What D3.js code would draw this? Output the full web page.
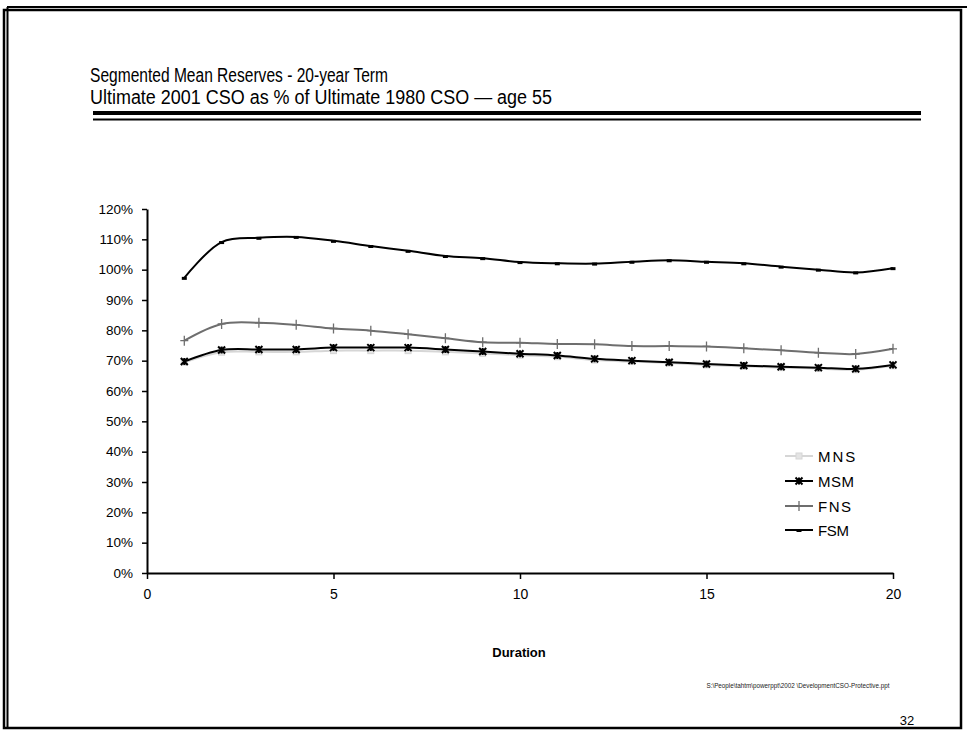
<!DOCTYPE html>
<html>
<head>
<meta charset="utf-8">
<script src="https://cdn.jsdelivr.net/npm/d3@7"></script>
<style>
  html, body { margin: 0; padding: 0; background: #fff; }
  svg { display: block; font-family: "Liberation Sans", Arial, sans-serif; }
</style>
</head>
<body>
<svg id="chart" width="967" height="732"></svg>
<script>
// ---- data ----
const durations = [1,2,3,4,5,6,7,8,9,10,11,12,13,14,15,16,17,18,19,20];
const seriesNames = ["MNS", "MSM", "FNS", "FSM"];
const mnsValues = [69.5, 72.8, 72.9, 72.9, 73.3, 73.3, 73.3, 72.9, 72.4, 71.8, 71.3, 70.2, 69.7, 69.2, 68.6, 68.1, 67.7, 67.4, 67.0, 68.3];
const msmValues = [69.7, 73.5, 73.7, 73.7, 74.3, 74.3, 74.3, 73.7, 73.0, 72.3, 71.7, 70.6, 70.0, 69.5, 68.9, 68.4, 68.0, 67.7, 67.3, 68.6];
const fnsValues = [76.6, 82.1, 82.5, 81.8, 80.6, 79.9, 78.7, 77.4, 76.1, 75.9, 75.5, 75.4, 74.8, 74.8, 74.7, 74.1, 73.4, 72.6, 72.2, 73.9];
const fsmValues = [97.3, 109.1, 110.5, 110.8, 109.5, 107.8, 106.2, 104.5, 103.8, 102.5, 102.1, 102.0, 102.6, 103.1, 102.6, 102.1, 101.0, 100.0, 99.1, 100.5];
const yTickValues = [0,10,20,30,40,50,60,70,80,90,100,110,120];
const xTickValues = [0,5,10,15,20];
const titleLines = ["Segmented Mean Reserves - 20-year Term", "Ultimate 2001 CSO as % of Ultimate 1980 CSO \u2014 age 55"];
const xAxisTitle = "Duration";
const footnote = "S:\\People\\tahtm\\powerppt\\2002 \\DevelopmentCSO-Protective.ppt";
const pageNumber = "32";

const svg = d3.select("#chart");

// ---- frame ----
svg.append("rect").attr("x", 4).attr("y", 10).attr("width", 957).attr("height", 718)
  .attr("fill", "none").attr("stroke", "#000").attr("stroke-width", 2.5);
svg.append("line").attr("x1", 7).attr("y1", 7).attr("x2", 967).attr("y2", 7)
  .attr("stroke", "#000").attr("stroke-width", 2);
svg.append("line").attr("x1", 7.5).attr("y1", 7).attr("x2", 7.5).attr("y2", 727)
  .attr("stroke", "#000").attr("stroke-width", 2);

// ---- title ----
const titleWidths = [298, 462];
svg.selectAll("text.title").data(titleLines).join("text")
  .attr("class", "title")
  .attr("x", 90).attr("y", (d, i) => 82 + i * 22)
  .attr("font-size", 19.5)
  .attr("textLength", (d, i) => titleWidths[i])
  .attr("lengthAdjust", "spacingAndGlyphs")
  .attr("fill", "#000").text(d => d);
svg.append("line").attr("x1", 93).attr("x2", 921).attr("y1", 113).attr("y2", 113)
  .attr("stroke", "#000").attr("stroke-width", 4);
svg.append("line").attr("x1", 93).attr("x2", 921).attr("y1", 119.5).attr("y2", 119.5)
  .attr("stroke", "#000").attr("stroke-width", 1.8);

// ---- scales ----
const x = d3.scaleLinear().domain([0, 20]).range([147, 893]);
const y = d3.scaleLinear().domain([0, 120]).range([573, 209]);

// ---- axes ----
const yAxis = svg.append("g").attr("transform", `translate(${x(0)},0)`)
  .call(d3.axisLeft(y).tickValues(yTickValues).tickSize(5).tickSizeOuter(0).tickFormat(d => d + "%"));
yAxis.select(".domain").attr("stroke-width", 2);
yAxis.selectAll(".tick line").attr("stroke-width", 1.5);
yAxis.selectAll(".tick text").attr("font-size", 13.5).attr("font-family", "Liberation Sans, Arial, sans-serif")
  .attr("x", -14).attr("fill", "#000");

const xAxis = svg.append("g").attr("transform", `translate(0,${y(0)})`)
  .call(d3.axisBottom(x).tickValues(xTickValues).tickSize(6).tickSizeOuter(0));
xAxis.select(".domain").attr("stroke-width", 2);
xAxis.selectAll(".tick line").attr("stroke-width", 1.5);
xAxis.selectAll(".tick text").attr("font-size", 14).attr("font-family", "Liberation Sans, Arial, sans-serif")
  .attr("y", 16).attr("fill", "#000");

svg.append("text").attr("x", 519).attr("y", 657).attr("text-anchor", "middle")
  .attr("font-size", 13).attr("font-weight", "bold").text(xAxisTitle);

svg.append("text").attr("x", 798).attr("y", 688).attr("text-anchor", "middle")
  .attr("font-size", 6.3).attr("fill", "#222").text(footnote);
svg.append("text").attr("x", 907).attr("y", 725).attr("text-anchor", "middle")
  .attr("font-size", 13).text(pageNumber);

// ---- series ----
const seriesList = [
  { name: seriesNames[0], values: mnsValues, color: "#d6d6d6", width: 2, marker: "square" },
  { name: seriesNames[1], values: msmValues, color: "#000", width: 2, marker: "x" },
  { name: seriesNames[2], values: fnsValues, color: "#6e6e6e", width: 2, marker: "plus" },
  { name: seriesNames[3], values: fsmValues, color: "#000", width: 2, marker: "dash" }
];

const line = d3.line().x(d => x(d.d)).y(d => y(d.v)).curve(d3.curveCatmullRom.alpha(0.5));

function drawMarker(g, type, color) {
  if (type === "square") {
    g.append("rect").attr("x", -3).attr("y", -3).attr("width", 6).attr("height", 6)
      .attr("fill", "#e4e4e4").attr("stroke", color).attr("stroke-width", 1);
  } else if (type === "x") {
    g.append("path").attr("d", "M-3.5,-3.5L3.5,3.5M-3.5,3.5L3.5,-3.5M0,-3.5L0,3.5")
      .attr("stroke", color).attr("stroke-width", 2);
  } else if (type === "plus") {
    g.append("path").attr("d", "M0,-5L0,5M-4,0L4,0").attr("stroke", color).attr("stroke-width", 1.3);
  } else if (type === "dash") {
    g.append("rect").attr("x", -2.5).attr("y", -1).attr("width", 5).attr("height", 3).attr("fill", color);
  }
}

seriesList.forEach(s => {
  const pts = durations.map((d, i) => ({ d: d, v: s.values[i] }));
  svg.append("path").datum(pts).attr("d", line)
    .attr("fill", "none").attr("stroke", s.color).attr("stroke-width", s.width);
  svg.append("g").selectAll("g").data(pts).join("g")
    .attr("transform", p => `translate(${x(p.d)},${y(p.v)})`)
    .each(function() { drawMarker(d3.select(this), s.marker, s.color); });
});

// ---- legend ----
const legend = svg.append("g");
const legendY = [456, 481, 506, 530];
const legendSpacing = [2, 0.5, 1.5, -0.3];
seriesList.forEach((s, i) => {
  const g = legend.append("g").attr("transform", `translate(0,${legendY[i]})`);
  g.append("line").attr("x1", 785).attr("x2", 813).attr("y1", 0).attr("y2", 0)
    .attr("stroke", s.color).attr("stroke-width", 2);
  const m = g.append("g").attr("transform", "translate(799,0)");
  drawMarker(m, s.marker, s.color);
  g.append("text").attr("x", 818).attr("y", 5.5).attr("font-size", 15)
    .attr("letter-spacing", legendSpacing[i]).text(s.name);
});
</script>
</body>
</html>
